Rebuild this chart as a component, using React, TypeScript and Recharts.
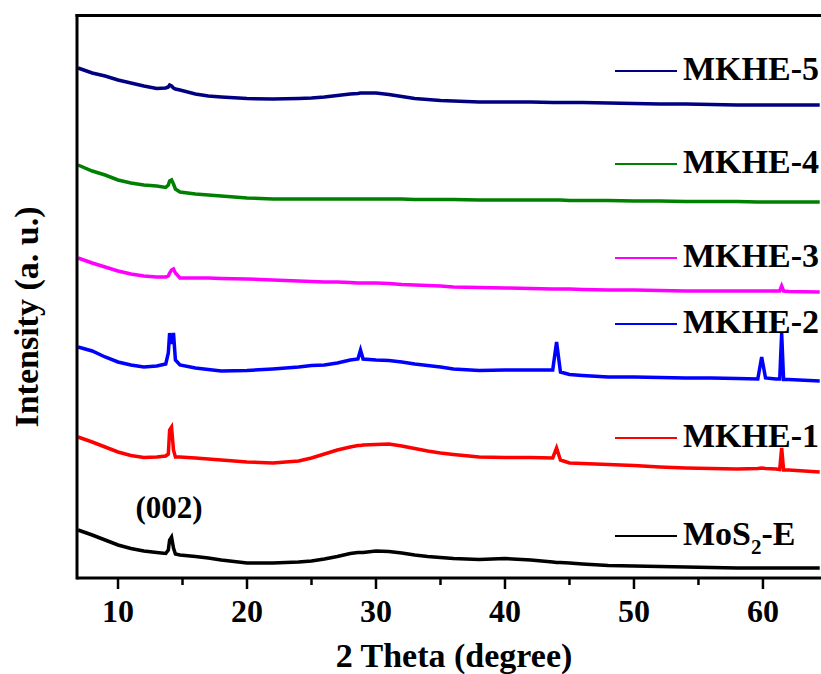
import React from 'react';
import { LineChart, Line, XAxis, YAxis } from 'recharts';

// 2θ grid (degrees), extra points around the sharp reflections
const theta = [
  6.9, 8, 9, 10, 11, 12, 13, 13.7, 13.9, 14.0, 14.15, 14.3, 14.45, 14.8, 16, 17, 18, 20, 22, 24,
  25, 26, 27, 28, 28.6, 28.8, 29.0, 30, 31, 32, 33, 34, 35, 36, 38, 40, 42, 43.7, 44.0, 44.3,
  45, 46, 48, 50, 52, 54, 56, 58, 59.6, 59.9, 60.2, 61, 61.3, 61.45, 61.6, 62, 64.4,
];

// stacked intensities (a. u., offset per pattern)
const mos2E = [
  48, 43, 38, 33, 29.5, 27, 25.5, 24.5, 28, 38, 41, 30, 24, 23, 21.5, 20, 18, 15, 15, 16,
  17, 19, 21.5, 24.5, 25.5, 25.5, 25.5, 27, 26.5, 25, 23, 21.5, 20.5, 19.5, 18.5, 19.5, 18, 16, 15.5, 15.5,
  15, 14, 12.5, 12, 11.5, 11, 10.5, 10, 10, 10, 10, 10, 10, 10, 10, 10, 10,
];
const mkhe1 = [
  141, 136, 131, 126, 122.5, 120.5, 121, 122, 124, 148, 151, 128, 121, 121, 120, 119, 118, 116, 115, 117,
  120, 124, 128, 131, 132.5, 132.5, 133, 133.5, 134, 132, 129.5, 127, 125, 123.5, 121, 120.5, 120.5, 120, 130, 118,
  115, 114.5, 113.5, 112.5, 111, 110, 109.5, 109, 109.5, 110, 109.5, 109, 108.5, 130, 108, 108, 106,
];
const mkhe2 = [
  231, 227, 221, 216, 213, 211, 212, 214, 225, 245, 234, 245, 218, 213, 210, 208.5, 207, 207.5, 209, 211,
  212.5, 213, 215, 218, 219, 228, 219, 218, 217.5, 216, 214, 212.5, 211, 209, 207.5, 208, 208, 208, 236, 206,
  203.5, 202.5, 201, 201, 200.5, 200, 200, 199.5, 199, 221, 200, 199, 199, 245, 198.5, 198.5, 197,
];
const mkhe3 = [
  320, 315, 311, 307, 304, 302, 301, 301, 302, 305, 308, 309, 305, 300, 300, 300, 299.5, 299, 298, 297,
  296.5, 296, 296, 295.5, 295, 295, 295, 295, 294.5, 293.5, 293, 292.5, 292, 291, 290.5, 290, 289.5, 289, 289, 289,
  289, 288.5, 288, 288, 287.5, 287, 287, 287, 287, 287, 287, 287, 287, 292, 287, 286.5, 286,
];
const mkhe4 = [
  413, 407, 403, 398, 395, 393, 392, 390.5, 393, 397, 398, 394, 389, 386, 384, 383, 382, 380, 379, 379,
  379, 379, 379, 379, 379, 379, 379, 379, 379, 379, 378.5, 378.5, 378.5, 378.5, 378, 378, 378, 378, 378, 378,
  377.5, 377.5, 377.5, 377, 377, 376.5, 376.5, 376.5, 376, 376, 376, 376, 376, 376, 376, 376, 376,
];
const mkhe5 = [
  510, 505, 502, 498, 495, 492, 489.5, 490, 491, 493, 492, 490, 489, 488, 484, 482, 481, 479.5, 479, 479.5,
  480, 481, 482.5, 484, 484.5, 485, 485, 485, 483.5, 481.5, 479.5, 478.5, 477.5, 477, 476, 476, 476, 475.5, 475.5, 475.5,
  475.5, 475.5, 475, 474.5, 474, 474, 473.5, 473, 473, 473, 473, 473, 473, 473, 473, 473, 473,
];

const xTicks = [10, 15, 20, 25, 30, 35, 40, 45, 50, 55, 60];

const series = [
  { key: 'mkhe5', name: 'MKHE-5', color: '#000080', values: mkhe5 },
  { key: 'mkhe4', name: 'MKHE-4', color: '#008000', values: mkhe4 },
  { key: 'mkhe3', name: 'MKHE-3', color: '#ff00ff', values: mkhe3 },
  { key: 'mkhe2', name: 'MKHE-2', color: '#0000ff', values: mkhe2 },
  { key: 'mkhe1', name: 'MKHE-1', color: '#ff0000', values: mkhe1 },
  { key: 'mos2', name: 'MoS2-E', color: '#000000', values: mos2E },
];

const data = theta.map((t, i) => {
  const row: any = { theta: t };
  series.forEach(s => { row[s.key] = s.values[i]; });
  return row;
});

const FONT = "'Times New Roman', 'Liberation Serif', serif";

// legend text baselines, top to bottom
const legendBaselines = [80, 173, 267, 333, 447, 545];

const XTick = ({ x, y, payload }: any) => {
  const major = payload.value % 10 === 0;
  return (
    <g>
      <line x1={x} x2={x} y1={y} y2={y + (major ? 11 : 7)} stroke="#000" strokeWidth={2.5} />
      {major && (
        <text x={x} y={y + 44} textAnchor="middle" fontSize={32} fontWeight="bold" fontFamily={FONT} fill="#000">
          {payload.value}
        </text>
      )}
    </g>
  );
};

const LegendName = ({ name, x, y }: { name: string; x: number; y: number }) => {
  const common = { fontSize: 34, fontWeight: 'bold' as const, fontFamily: FONT, fill: '#000' };
  if (name === 'MoS2-E') {
    return (
      <text x={x} y={y} {...common}>
        MoS<tspan fontSize={21} dy={9}>2</tspan><tspan dy={-9}>-E</tspan>
      </text>
    );
  }
  return <text x={x} y={y} {...common}>{name}</text>;
};

const title = { fontSize: 34, fontWeight: 'bold' as const, fontFamily: FONT, fill: '#000' };

export default function App() {
  return (
    <div style={{ position: 'fixed', left: 0, top: 0, width: 821, height: 674, background: '#fff' }}>
      <LineChart width={821} height={674} data={data} margin={{ top: 15.5, right: 0, bottom: 0, left: 0 }}>
        <XAxis
          dataKey="theta"
          type="number"
          domain={[6.82, 64.5]}
          allowDataOverflow
          ticks={xTicks}
          interval={0}
          tick={<XTick />}
          tickLine={false}
          tickSize={0}
          tickMargin={0}
          height={96}
          axisLine={{ stroke: '#000', strokeWidth: 3 }}
        />
        <YAxis type="number" domain={[0, 562.5]} tick={false} tickLine={false} width={77} axisLine={false} />
        {series.map(s => (
          <Line
            key={s.key}
            type="linear"
            dataKey={s.key}
            name={s.name}
            stroke={s.color}
            strokeWidth={3.5}
            dot={false}
            isAnimationActive={false}
          />
        ))}
      </LineChart>
      <svg width={821} height={674} style={{ position: 'absolute', left: 0, top: 0, pointerEvents: 'none' }}>
        {/* plot frame: top and left lines */}
        <line x1={75.5} x2={821} y1={15.5} y2={15.5} stroke="#000" strokeWidth={3} />
        <line x1={77} x2={77} y1={14} y2={579.5} stroke="#000" strokeWidth={3} />
        <text x={454} y={667} textAnchor="middle" {...title}>2 Theta (degree)</text>
        <text x={38} y={317} transform="rotate(-90, 38, 317)" textAnchor="middle" {...title}>
          Intensity (a. u.)
        </text>
        {series.map((s, i) => (
          <g key={s.key}>
            <line x1={615} x2={677} y1={legendBaselines[i] - 9} y2={legendBaselines[i] - 9} stroke={s.color} strokeWidth={2} />
            <LegendName name={s.name} x={683} y={legendBaselines[i]} />
          </g>
        ))}
        <text x={169} y={518} textAnchor="middle" fontSize={31} fontWeight="bold" fontFamily={FONT} fill="#000">
          (002)
        </text>
      </svg>
    </div>
  );
}
